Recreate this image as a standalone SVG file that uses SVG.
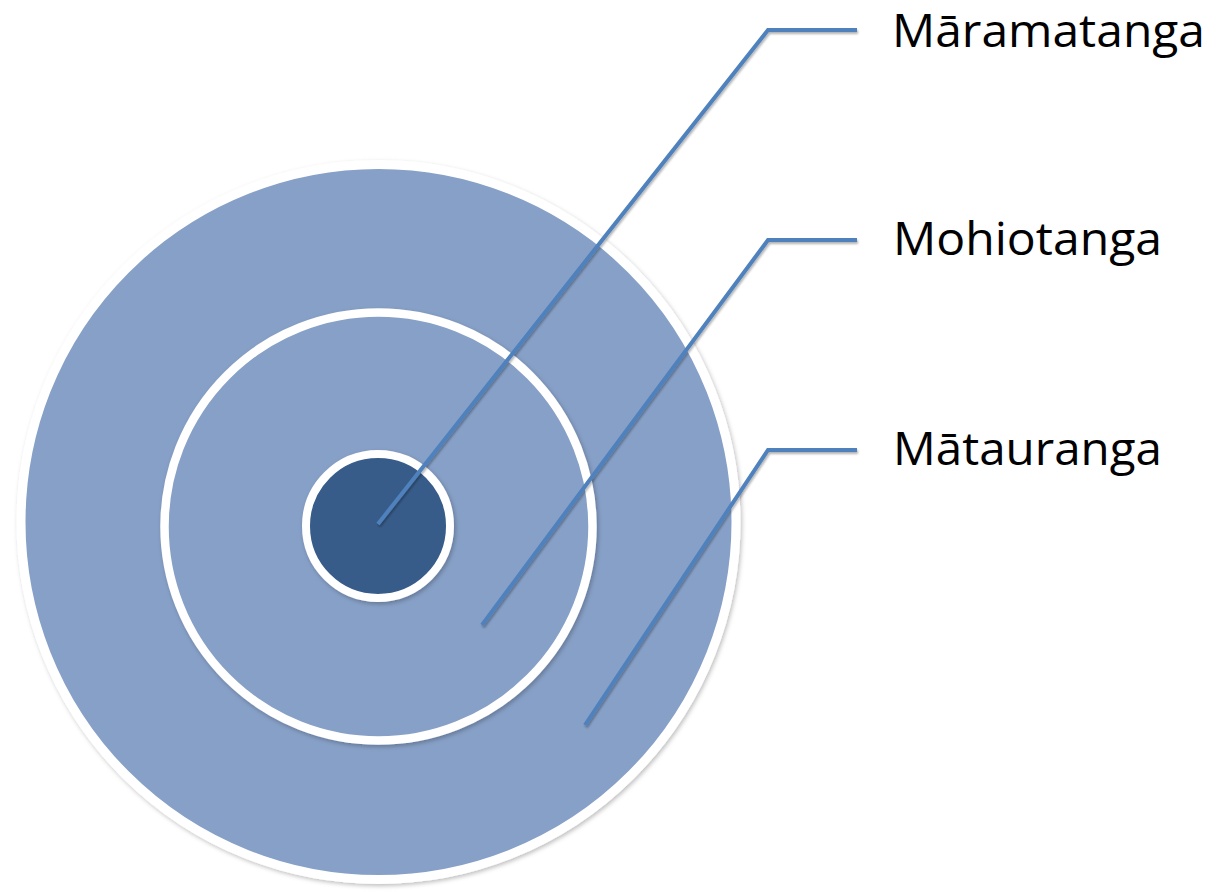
<svg xmlns="http://www.w3.org/2000/svg" width="1212" height="892" viewBox="0 0 1212 892">
  <style>
    .ring { fill: #87A0C7; stroke: #FFFFFF; }
    .core { fill: #375C89; stroke: #FFFFFF; stroke-width: 8; }
    .conn { fill: none; stroke: #4F81BD; stroke-width: 4; stroke-linejoin: miter; }
    .label { font-family: "Open Sans", "Noto Sans", "Liberation Sans", sans-serif; font-size: 45px; fill: #000000; }
  </style>
  <defs>
    <filter id="sh" x="-10%" y="-10%" width="120%" height="120%">
      <feDropShadow dx="1.5" dy="2" stdDeviation="2" flood-color="#000000" flood-opacity="0.25"/>
    </filter>
    <filter id="lsh" x="-10%" y="-10%" width="120%" height="120%">
      <feDropShadow dx="1" dy="2" stdDeviation="1.2" flood-color="#000000" flood-opacity="0.3"/>
    </filter>
  </defs>
  <rect width="1212" height="892" fill="#FFFFFF"/>
  <g id="outer">
    <circle class="ring" cx="378.5" cy="522" r="357.5" stroke-width="9" filter="url(#sh)"/>
  </g>
  <g id="middle">
    <circle class="ring" cx="378.5" cy="526.5" r="214" stroke-width="8.5" filter="url(#sh)"/>
  </g>
  <g id="core">
    <circle class="core" cx="378" cy="526" r="72" filter="url(#sh)"/>
  </g>
  <g id="connectors" filter="url(#lsh)">
    <polyline class="conn" points="378,524 768,30 857,30"/>
    <polyline class="conn" points="482,625 768,240 857,240"/>
    <polyline class="conn" points="585,725 768,450 857,450"/>
  </g>
  <g id="label-maramatanga">
    <text class="label" x="892" y="47" textLength="313" lengthAdjust="spacingAndGlyphs">Māramatanga</text>
  </g>
  <g id="label-mohiotanga">
    <text class="label" x="893" y="255" textLength="269" lengthAdjust="spacingAndGlyphs">Mohiotanga</text>
  </g>
  <g id="label-matauranga">
    <text class="label" x="893" y="465" textLength="269" lengthAdjust="spacingAndGlyphs">Mātauranga</text>
  </g>
</svg>
